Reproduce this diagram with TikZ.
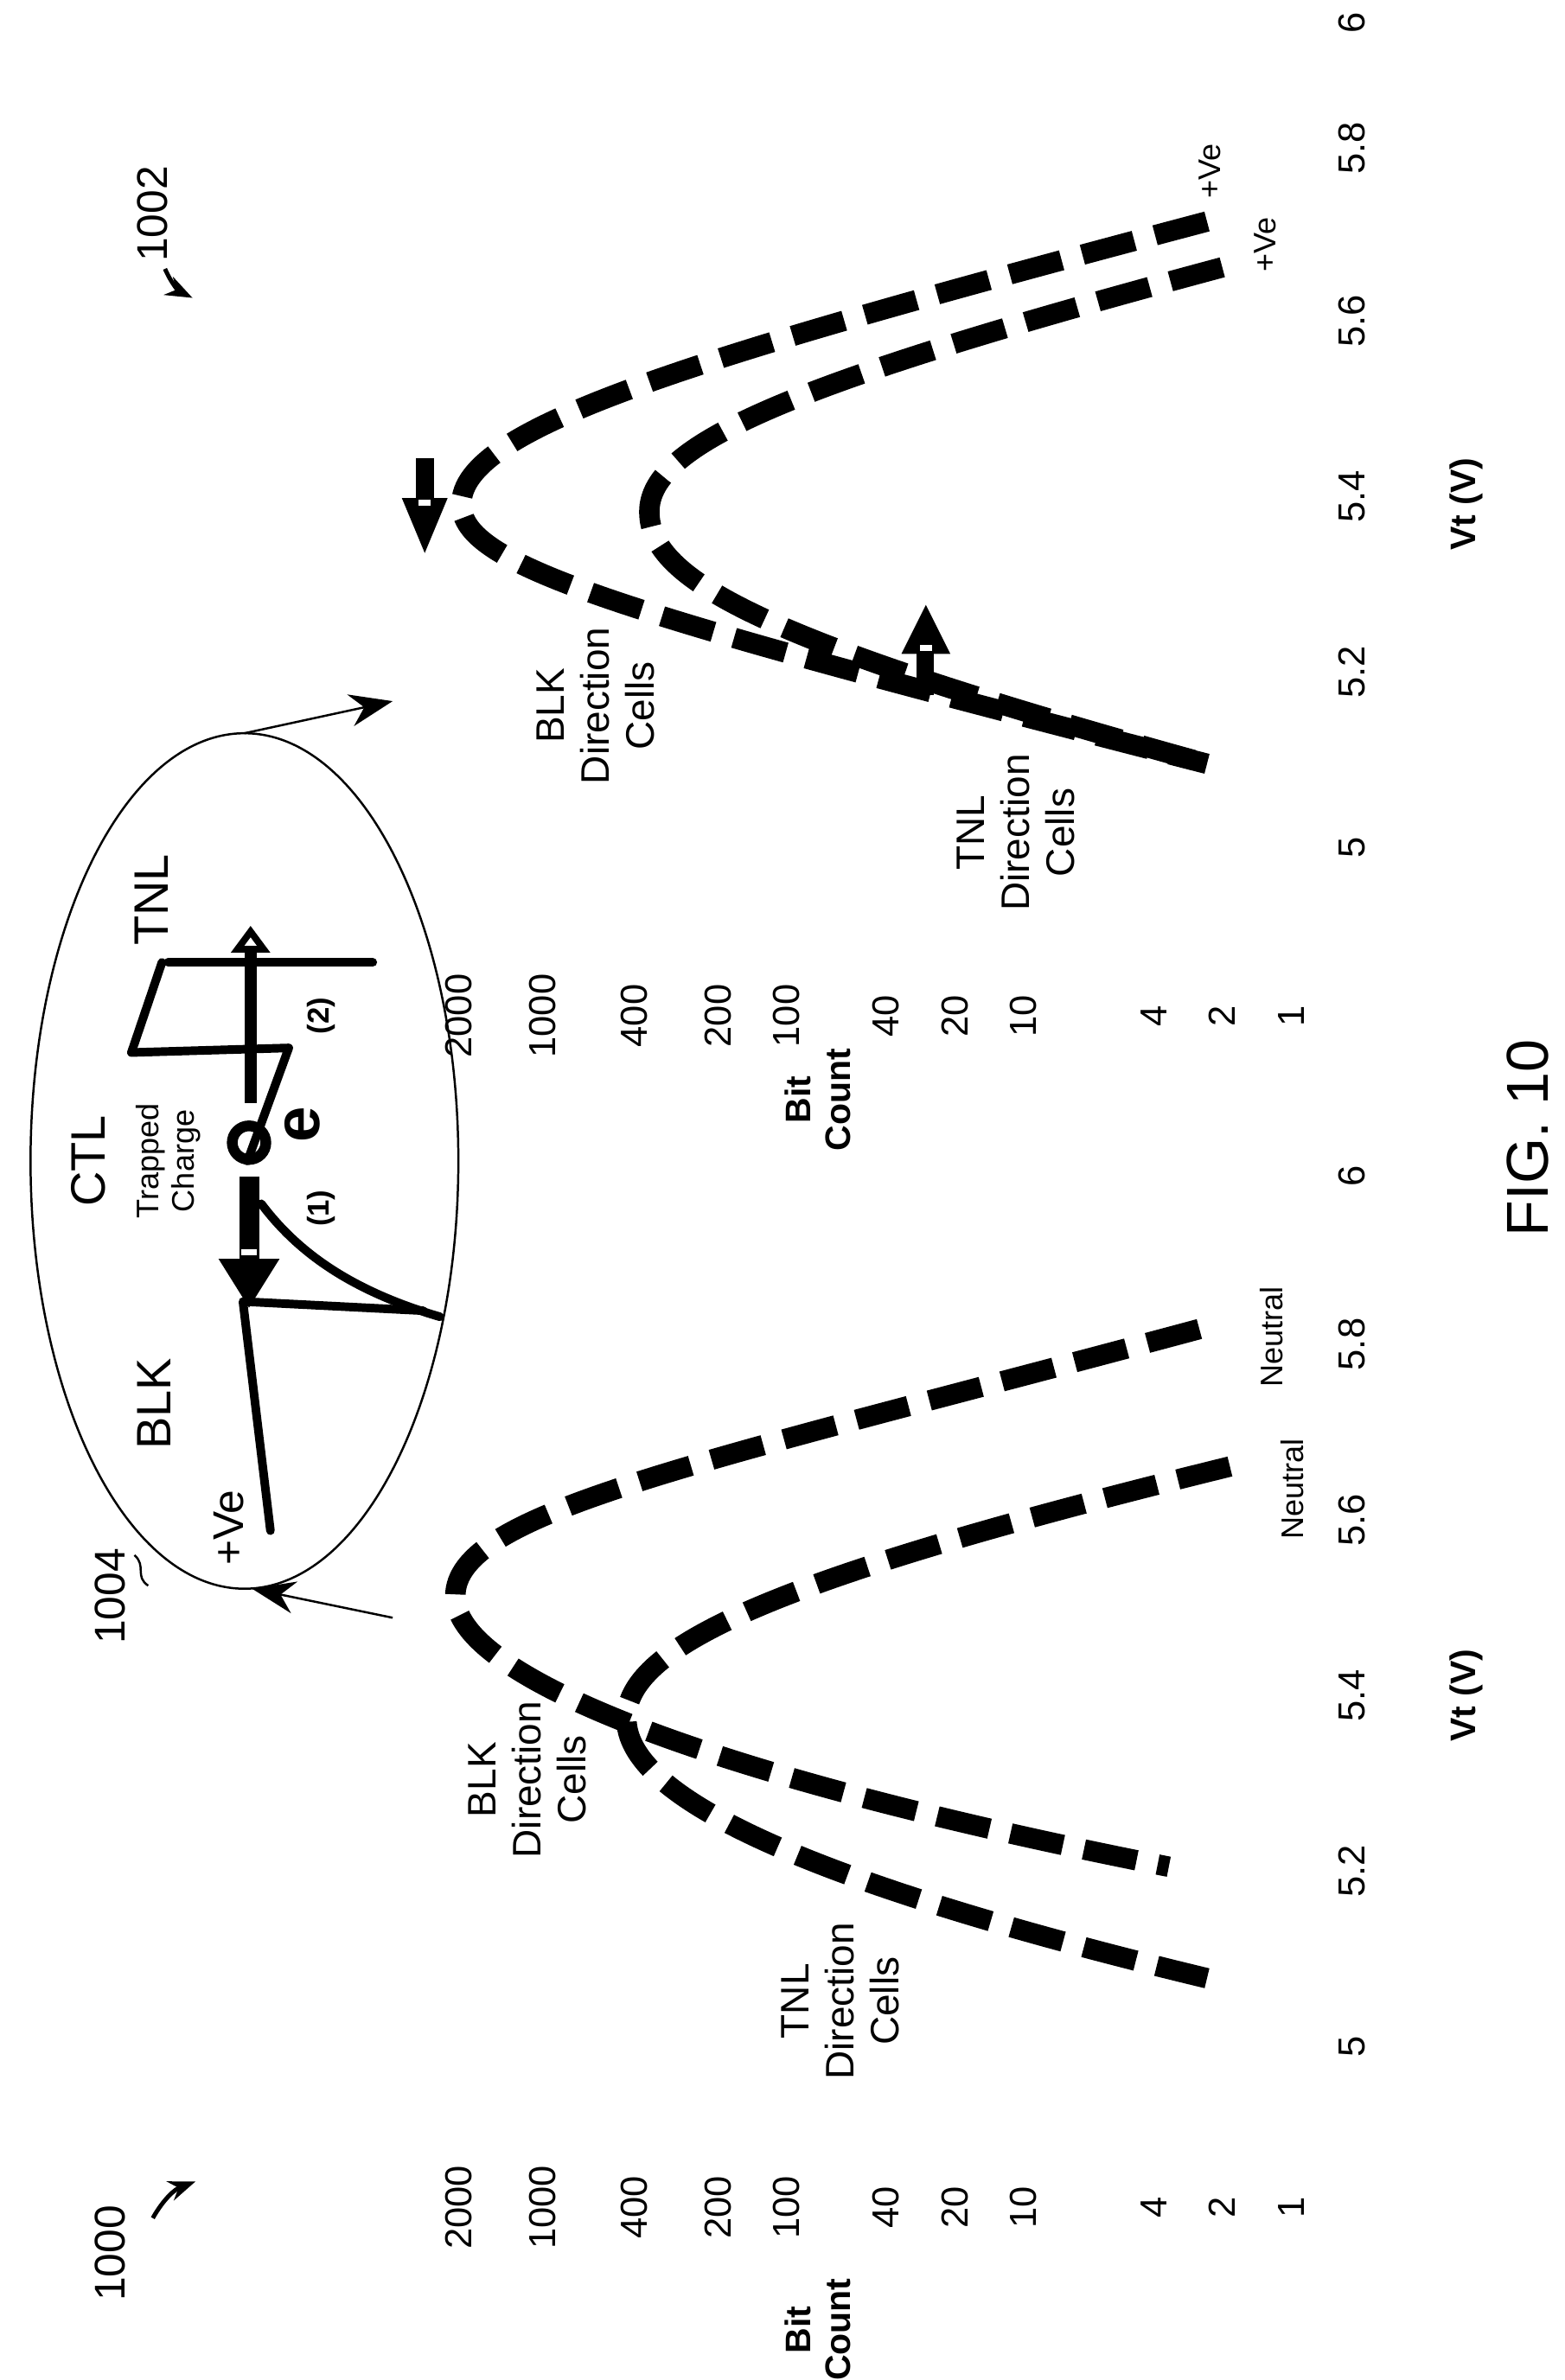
\documentclass[tikz,border=0pt]{standalone}
\usepackage{fontspec}
\setmainfont{Liberation Sans}
\usetikzlibrary{arrows.meta}

\tikzset{
  txt/.style={rotate=90, inner sep=0pt, align=center, font=\fontsize{7.4}{8.4}\selectfont},
  tick/.style={txt, font=\fontsize{7}{8}\selectfont},
  small/.style={txt, font=\fontsize{5.8}{6.6}\selectfont},
  bold/.style={txt, font=\bfseries\fontsize{6.6}{7.4}\selectfont},
  curve/.style={line width=3.8pt, dash pattern=on 10pt off 4pt},
  band/.style={line width=1.6pt, line cap=round, line join=round}
}

\begin{document}
\begin{tikzpicture}[x=0.01cm, y=-0.01cm]
\useasboundingbox (0,0) rectangle (1024,1558);

% reference labels
\node[txt, font=\fontsize{8}{9}\selectfont] (l1000) at (72,1475) {1000};
\draw[-{Stealth[length=5pt]}, thick] (100,1452) to[bend left=20] (128,1428);
\node[txt, font=\fontsize{8}{9}\selectfont] (l1002) at (100,140) {1002};
\draw[-{Stealth[length=5pt]}, thick] (108,176) to[bend right=20] (126,195);
\node[txt, font=\fontsize{8}{9}\selectfont] (l1004) at (72,1045) {1004};
\draw (88,1018) .. controls (96,1025) and (88,1032) .. (97,1038);
\node[txt, font=\fontsize{11}{12}\selectfont] (fig) at (1000,745) {FIG. 10};

% y axis values
\foreach \v/\x in {2000/300, 1000/355, 400/415, 200/470, 100/515, 40/580, 20/625, 10/670, 4/755, 2/800, 1/845} {
  \node[tick] at (\x,1445) {\v};
  \node[tick] at (\x,665) {\v};
}
\node[bold] (bcl) at (535,1525) {Bit\\Count};
\node[bold] (bcr) at (535,720) {Bit\\Count};

% x axis values
\foreach \v/\y in {5/1340, 5.2/1225, 5.4/1110, 5.6/995, 5.8/880, 6/770} {
  \node[tick] at (885,\y) {\v};
}
\foreach \v/\y in {5/555, 5.2/440, 5.4/325, 5.6/210, 5.8/97, 6/15} {
  \node[tick] at (885,\y) {\v};
}
\node[bold] (vtl) at (960,1110) {Vt (V)};
\node[bold] (vtr) at (960,330) {Vt (V)};

% left distributions
\draw[curve] (785,870) .. controls (450,960) and (298,990) .. (298,1045)
  .. controls (298,1095) and (450,1160) .. (765,1222);
\draw[curve] (805,960) .. controls (520,1030) and (410,1075) .. (410,1125)
  .. controls (410,1175) and (520,1230) .. (790,1295);
\node[small] (n1) at (832,875) {Neutral};
\node[small] (n2) at (846,975) {Neutral};
\node[txt] (blkl) at (345,1165) {BLK\\Direction\\Cells};
\node[txt] (tnll) at (550,1310) {TNL\\Direction\\Cells};

% right distributions
\draw[curve] (790,145) .. controls (450,235) and (302,280) .. (302,330)
  .. controls (302,370) and (400,400) .. (790,500);
\draw[curve] (800,175) .. controls (520,250) and (425,290) .. (425,335)
  .. controls (425,380) and (500,420) .. (790,500);
\node[small] (pv1) at (792,112) {+Ve};
\node[small] (pv2) at (828,160) {+Ve};
\node[txt] (blkr) at (390,462) {BLK\\Direction\\Cells};
\node[txt] (tnlr) at (665,545) {TNL\\Direction\\Cells};

% shift arrows
\fill (272,300) rectangle (284,328);
\fill (263,326) -- (293,326) -- (278,362) -- cycle;
\fill[white] (274,327) rectangle (282,331);
\fill (600,427) rectangle (611,455);
\fill (590,428) -- (622,428) -- (606,396) -- cycle;
\fill[white] (602,422) rectangle (610,426);

% inset
\draw (160,760) ellipse (140 and 280);
\draw[-{Stealth[length=8pt]}] (257,1059) -- (165,1040);
\draw[-{Stealth[length=8pt]}] (160,480) -- (257,459);
\draw[band] (177,1002) -- (159,852) -- (277,858);
\draw[band] (288,862) .. controls (230,845) and (195,820) .. (171,788);
\draw[band] (162,760) -- (189,686) -- (86,689) -- (106,630);
\draw[band] (110,630) -- (244,630);
\draw[line width=2pt] (163,748) circle (11);
\draw[line width=2.2pt, -{Triangle[open, length=5pt, width=7pt]}] (164,722) -- (164,606);
\fill (157,770) rectangle (170,824);
\fill (143,824) -- (183,824) -- (163,856) -- cycle;
\fill[white] (158,818) rectangle (168,822);
\node[txt, font=\bfseries\fontsize{12}{12}\selectfont] (e) at (198,736) {e};
\node[bold, font=\bfseries\fontsize{5.6}{6}\selectfont] (p1) at (210,791) {(1)};
\node[bold, font=\bfseries\fontsize{5.6}{6}\selectfont] (p2) at (210,665) {(2)};
\node[txt, font=\fontsize{9}{10}\selectfont] (tnl) at (99,589) {TNL};
\node[txt, font=\fontsize{9}{10}\selectfont] (ctl) at (58,760) {CTL};
\node[small] (tc) at (110,760) {Trapped\\Charge};
\node[txt, font=\fontsize{9}{10}\selectfont] (blk) at (101,919) {BLK};
\node[txt, font=\fontsize{8}{9}\selectfont] (ve) at (150,1000) {+Ve};
\end{tikzpicture}
\end{document}
